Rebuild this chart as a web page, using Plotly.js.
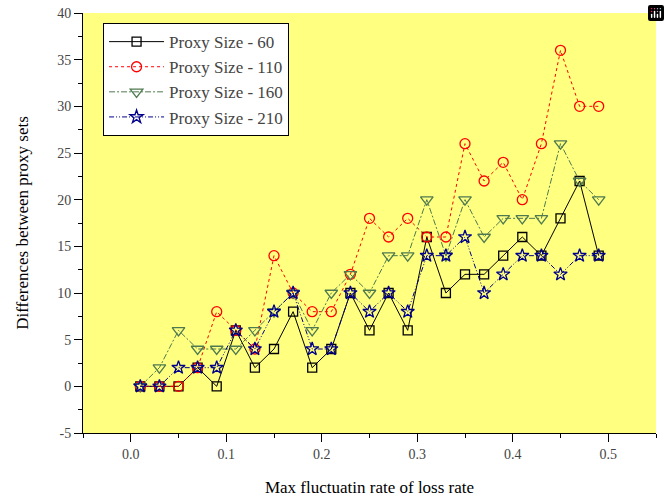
<!DOCTYPE html>
<html>
<head>
<meta charset="utf-8">
<script src="https://cdn.plot.ly/plotly-3.0.1.min.js"></script>
<style>
  html, body { margin: 0; padding: 0; background: #ffffff; }
  #chart { width: 670px; height: 500px; }
</style>
</head>
<body>
<div id="chart"></div>
<script>
// Max fluctuation rate of loss rate (x positions)
const rates = [0.01, 0.03, 0.05, 0.07, 0.09, 0.11, 0.13, 0.15, 0.17, 0.19,
               0.21, 0.23, 0.25, 0.27, 0.29, 0.31, 0.33, 0.35, 0.37, 0.39,
               0.41, 0.43, 0.45, 0.47, 0.49];

// Differences between proxy sets, one array per proxy size
const proxy60  = [0, 0, 0, 2, 0, 6, 2, 4, 8, 2, 4, 10, 6, 10, 6, 16, 10, 12, 12, 14, 16, 14, 18, 22, 14];
const proxy110 = [0, 0, 0, 2, 8, 6, 4, 14, 10, 8, 8, 12, 18, 16, 18, 16, 16, 26, 22, 24, 20, 26, 36, 30, 30];
const proxy160 = [0, 2, 6, 4, 4, 4, 6, 8, 10, 6, 10, 12, 10, 14, 14, 20, 14, 20, 16, 18, 18, 18, 26, 22, 20];
const proxy210 = [0, 0, 2, 2, 2, 6, 4, 8, 10, 4, 4, 10, 8, 10, 8, 14, 14, 16, 10, 12, 14, 14, 12, 14, 14];

const seriesNames = ['Proxy Size - 60', 'Proxy Size - 110', 'Proxy Size - 160', 'Proxy Size - 210'];
const xTickVals = [0.0, 0.1, 0.2, 0.3, 0.4, 0.5];
const xTickText = ['0.0', '0.1', '0.2', '0.3', '0.4', '0.5'];
const yTickVals = [-5, 0, 5, 10, 15, 20, 25, 30, 35, 40];
const yTickText = ['-5', '0', '5', '10', '15', '20', '25', '30', '35', '40'];

const lineStyles = [
  { color: '#000000', dash: 'solid',                   symbol: 'square-open',        size: 9 },
  { color: '#ff0000', dash: 'dot',                     symbol: 'circle-open',        size: 10 },
  { color: '#4f7a4f', dash: '6px,2px,2px,2px',         symbol: 'triangle-down-open', size: 11 },
  { color: '#00008b', dash: '5px,2px,1px,2px,1px,2px', symbol: 'star-open',          size: 10 }
];

const seriesValues = [proxy60, proxy110, proxy160, proxy210];

const chartTraces = seriesValues.map((ys, i) => ({
  x: rates,
  y: ys,
  name: seriesNames[i],
  type: 'scatter',
  mode: 'lines+markers',
  line: { color: lineStyles[i].color, width: 1, dash: lineStyles[i].dash },
  marker: {
    symbol: lineStyles[i].symbol,
    size: lineStyles[i].size,
    color: lineStyles[i].color,
    line: { color: lineStyles[i].color, width: 1.3 }
  }
}));

// empty trace that carries the overlaid axes used for the short in-between ticks
chartTraces.push({
  x: [], y: [], type: 'scatter', mode: 'markers',
  xaxis: 'x2', yaxis: 'y2', showlegend: false, hoverinfo: 'skip'
});

const layout = {
  width: 670,
  height: 500,
  margin: { l: 83, r: 14, t: 13, b: 67 },
  paper_bgcolor: '#ffffff',
  plot_bgcolor: '#ffff80',
  font: { family: 'Liberation Serif', size: 14 },
  showlegend: true,
  modebar: { bgcolor: 'rgba(0,0,0,0)', color: 'rgba(0,0,0,0)', activecolor: 'rgba(0,0,0,0)' },
  legend: {
    x: 0.035, y: 0.976, xanchor: 'left', yanchor: 'top',
    bgcolor: '#ffffff', bordercolor: '#000000', borderwidth: 1,
    itemwidth: 55,
    font: { family: 'Liberation Serif', size: 17 }
  },
  xaxis: {
    range: [-0.05, 0.55],
    tickmode: 'array',
    tickvals: xTickVals,
    ticktext: xTickText,
    ticks: 'outside', ticklen: 8, tickwidth: 1, tickcolor: '#000000',
    showline: true, linecolor: '#000000', linewidth: 1,
    showgrid: false, zeroline: false,
    tickfont: { family: 'Liberation Serif', size: 14 },
    title: { text: 'Max fluctuatin rate of loss rate', font: { family: 'Liberation Serif', size: 17, color: '#000000' }, standoff: 20 }
  },
  yaxis: {
    range: [-5, 40],
    tickmode: 'array',
    tickvals: yTickVals,
    ticktext: yTickText,
    ticks: 'outside', ticklen: 8, tickwidth: 1, tickcolor: '#000000',
    showline: true, linecolor: '#000000', linewidth: 1,
    showgrid: false, zeroline: false,
    tickfont: { family: 'Liberation Serif', size: 14 },
    title: { text: 'Differences between proxy sets', font: { family: 'Liberation Serif', size: 17, color: '#000000' }, standoff: 24 }
  },
  // short ticks every 0.05 and every 2.5
  xaxis2: {
    overlaying: 'x', anchor: 'y', side: 'bottom',
    range: [-0.05, 0.55], tickmode: 'linear', tick0: 0, dtick: 0.05,
    ticks: 'outside', ticklen: 4, tickwidth: 1, tickcolor: '#000000',
    showticklabels: false, showgrid: false, zeroline: false, showline: false
  },
  yaxis2: {
    overlaying: 'y', anchor: 'x', side: 'left',
    range: [-5, 40], tickmode: 'linear', tick0: 0, dtick: 2.5,
    ticks: 'outside', ticklen: 4, tickwidth: 1, tickcolor: '#000000',
    showticklabels: false, showgrid: false, zeroline: false, showline: false
  }
};

Plotly.newPlot('chart', chartTraces, layout);
</script>
</body>
</html>
